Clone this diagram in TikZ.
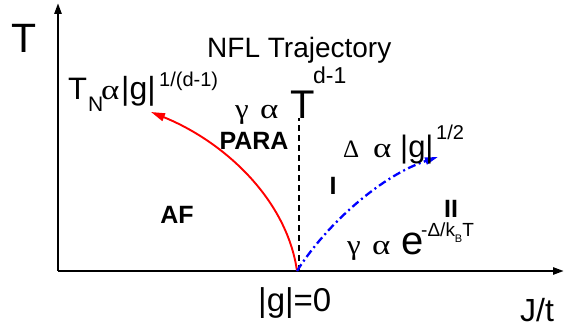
\documentclass[tikz,border=0pt]{standalone}
\usepackage{fontspec}
\setmainfont{Liberation Sans}
\newfontfamily\gr{Liberation Serif}
\usetikzlibrary{arrows.meta}
\newcommand\fsz[1]{\fontsize{#1}{#1}\selectfont}
\newcommand\bx[2]{\makebox[#1][l]{#2}}
\newcommand\wal[1]{{\gr\fsz{#1}\scalebox{1.25}[1]{α}}}
\newcommand\wga[1]{{\gr\fsz{#1}\scalebox{1.1}[1]{γ}}}
\tikzset{
  axisline/.style={line width=2.4pt,-{Triangle[length=11pt,width=7pt]}},
  redcurve/.style={red,line width=1.9pt,-{Triangle[length=14pt,width=8pt]}},
  bluecurve/.style={blue,line width=2.3pt,dash pattern=on 8pt off 3.5pt on 2pt off 3.5pt,-{Triangle[length=13pt,width=7pt]}},
  dashline/.style={line width=1.1pt,dash pattern=on 6pt off 4pt},
  lbl/.style={inner sep=0pt,anchor=base west},
  bold/.style={inner sep=0pt,anchor=center,font=\bfseries\fsz{25}}
}
\begin{document}
\begin{tikzpicture}[x=1pt,y=-1pt]
\useasboundingbox (0,0) rectangle (566,331);
% coordinates
\coordinate (O) at (58,271);
\coordinate (xend) at (564,271);
\coordinate (yend) at (58,3);
\coordinate (g0) at (297,271);
\coordinate (dtop) at (299,118);
\coordinate (dbot) at (299,271);
\coordinate (redtip) at (151,112);
\coordinate (bluetip) at (438,157);
% axes
\draw[axisline] (O) -- (xend);
\draw[axisline] (O) -- (yend);
% curves
\draw[dashline] (dbot) -- (dtop);
\draw[redcurve] (g0) .. controls (287,200) and (225,142) .. (redtip);
\draw[bluecurve] (g0) .. controls (328,222) and (383,175) .. (bluetip);
% labels
\node[lbl] (Tax) at (11,53) {\fsz{41}T};
\node[lbl] (Jt) at (520,322) {\fsz{32}J/t};
\node[lbl] (g0lbl) at (258,312) {\fsz{33}|g|=0};
\node[lbl] (nfl) at (207,58) {\fsz{28}NFL Trajectory};
\node[lbl] (tn) at (68,100) {\bx{20pt}{\fsz{31}T}\bx{13pt}{\raisebox{-12pt}{\fsz{21}N}}\bx{20pt}{\wal{28}}\bx{38pt}{\fsz{32}|g|}\raisebox{13pt}{\fsz{20}1/(d-1)}};
\node[lbl] (gpara) at (235,119) {\bx{25pt}{\wga{28}}\bx{30pt}{\wal{28}}\bx{23pt}{\fsz{40}T}\raisebox{35pt}{\fsz{23}d-1}};
\node[lbl] (gap) at (343,158) {\bx{30pt}{\gr\fsz{25}Δ}\bx{27pt}{\wal{28}}\bx{36pt}{\fsz{31}|g|}\raisebox{18pt}{\fsz{20}1/2}};
\node[lbl] (gexp) at (347,255) {\bx{25pt}{\wga{28}}\bx{29pt}{\wal{28}}\bx{20pt}{\fsz{40}e}\raisebox{18pt}{\fsz{19}-Δ/k\raisebox{-6pt}{\fsz{11}B}T}};
\node[bold] (para) at (254,141) {PARA};
\node[bold] (af) at (177,215) {AF};
\node[bold] (one) at (333,186) {I};
\node[bold] (two) at (451,208.5) {II};
\end{tikzpicture}
\end{document}
